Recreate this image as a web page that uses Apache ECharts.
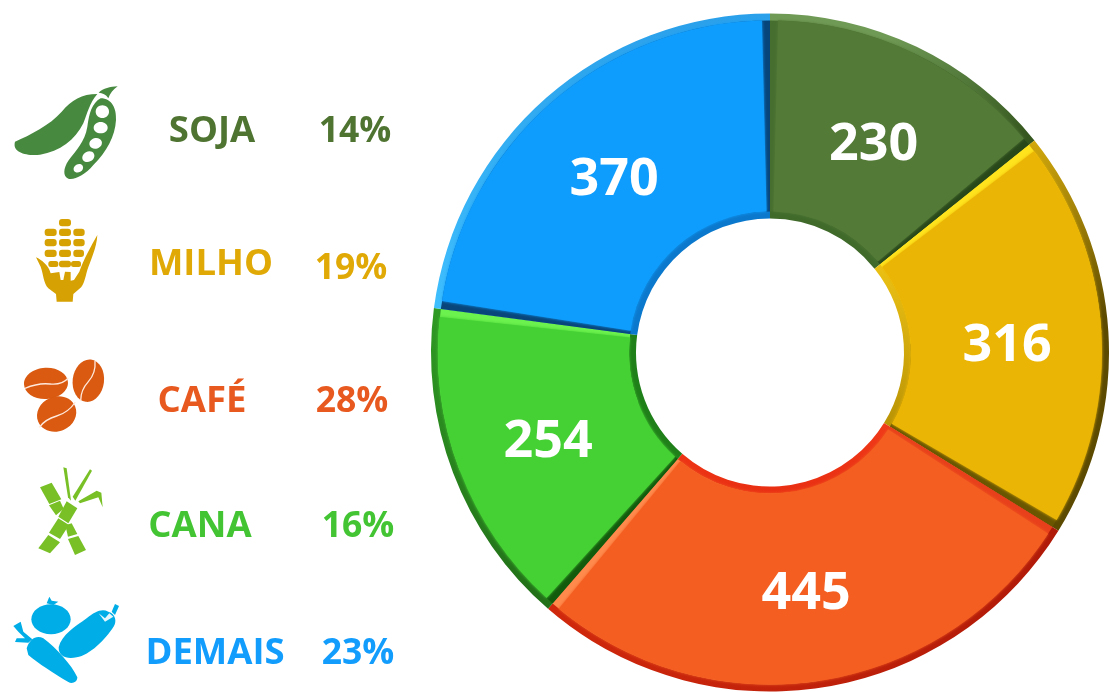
<!DOCTYPE html>
<html>
<head>
<meta charset="utf-8">
<style>html,body{margin:0;padding:0;background:#fff}#c{width:1109px;height:692px}</style>
<script src="https://cdn.jsdelivr.net/npm/echarts@6/dist/echarts.min.js"></script>
</head>
<body>
<div id="c"></div>
<script>
const categories = ['SOJA', 'MILHO', 'CAFÉ', 'CANA', 'DEMAIS'];
const values = [230, 316, 445, 254, 370];
const percentLabels = ['14%', '19%', '28%', '16%', '23%'];
const sliceColors = ['#547a37', '#ebb505', '#f45f21', '#45d134', '#0f9dfd'];
const outerArcA = ['#6f9a55', '#d2a80c', '#d0280c', '#2f9a24', '#40c0ff'];
const outerArcB = ['#2c4c16', '#5c4a00', '#b01a08', '#226f18', '#2aa0ea'];
const outerArcDir = [[0.55, 0, 1, 0.8], [0, 0, 0, 0.45], [0, 0, 1, 0], [0, 0, 0, 1], [0, 1, 0, 0]];
const innerArcA = ['#3f6a2a', '#ffd21a', '#f03a18', '#1f7f18', '#0a78cc'];
const innerArcB = ['#3f6a2a', '#a98500', '#e0200c', '#1f7f18', '#0a78cc'];
const seamStart = ['#466e2e', '#ffe31c', '#e8401a', '#125a0c', '#07457a'];
const seamEnd = ['#28481a', '#6a5600', '#ff8a4c', '#6cf24e', '#06457c'];
const labelShift = [[0, 9], [-2, 8], [0, 5], [2, 5], [2, 8]];
const textColors = ['#4f7431', '#e0a905', '#e8591f', '#43c433', '#129dfd'];
const nameSpots = [[212, 132], [211, 265], [202, 402], [200, 527], [215, 654]];
const percentSpots = [[355, 132], [351, 269], [352, 402], [358, 527], [358, 654]];

const chart = echarts.init(document.getElementById('c'), null, { renderer: 'canvas' });

const font = '"Open Sans", "Noto Sans", sans-serif';
const center = [770, 352.5];

function shape(d) {
  const name = 'ic' + (shape.n = (shape.n || 0) + 1);
  echarts.graphic.registerShape(name, echarts.graphic.extendPath(d, {}));
  return name;
}
// Icons are authored at 3x, relative to an origin
function icon(ox, oy, parts) {
  return {
    type: 'group', x: ox, y: oy, scaleX: 1 / 3, scaleY: 1 / 3, silent: true,
    children: parts
  };
}
const P = (d, fill) => ({ type: shape(d), style: { fill } });
const SL = (d, stroke, w) => ({ type: shape(d), style: { fill: 'none', stroke, lineWidth: w } });
const E = (cx, cy, rx, ry, rot, fill) => {
  const k = 0.5523, dx = rx * k, dy = ry * k;
  const c = Math.cos(rot), s = Math.sin(rot);
  const t = (x, y) => ((cx + x * c - y * s).toFixed(1) + ',' + (cy + x * s + y * c).toFixed(1));
  return P('M' + t(rx, 0) + 'C' + t(rx, dy) + ' ' + t(dx, ry) + ' ' + t(0, ry) +
    'C' + t(-dx, ry) + ' ' + t(-rx, dy) + ' ' + t(-rx, 0) +
    'C' + t(-rx, -dy) + ' ' + t(-dx, -ry) + ' ' + t(0, -ry) +
    'C' + t(dx, -ry) + ' ' + t(rx, -dy) + ' ' + t(rx, 0) + 'Z', fill);
};
const K = (cx, cy, w, h) => {
  const x = cx - w / 2, y = cy - h / 2, r = h / 2.4;
  return P('M' + (x + r) + ',' + y + 'L' + (x + w - r) + ',' + y + 'Q' + (x + w) + ',' + y + ' ' + (x + w) + ',' + (y + r) +
    'L' + (x + w) + ',' + (y + h - r) + 'Q' + (x + w) + ',' + (y + h) + ' ' + (x + w - r) + ',' + (y + h) +
    'L' + (x + r) + ',' + (y + h) + 'Q' + x + ',' + (y + h) + ' ' + x + ',' + (y + h - r) +
    'L' + x + ',' + (y + r) + 'Q' + x + ',' + y + ' ' + (x + r) + ',' + y + 'Z', cornC);
};

const podC = '#478a3f', cornC = '#d6a102', beanC = '#d95a10', caneC = '#78c025', vegC = '#00ade6';

const icons = [
  icon(0, 70, [
    P('M45,215 C90,195 150,165 185,125 C215,90 245,72 292,72 C268,100 262,130 250,160 C225,210 180,245 120,254 C85,258 35,250 45,215Z', podC),
    P('M302,85 C335,85 350,115 348,150 C345,200 320,245 280,285 C255,315 225,330 205,326 C188,318 190,295 205,272 C225,245 255,215 262,170 C268,130 275,100 302,85Z', podC),
    P('M296,68 C310,55 330,50 353,49 C340,58 330,70 325,85 C318,72 308,70 296,68Z', podC),
    E(307, 125, 20, 19, 0, '#fff'), E(302, 173, 21, 17, 0, '#fff'), E(287, 220, 19, 16, -0.3, '#fff'),
    E(265, 260, 19, 15, -0.5, '#fff'), E(235, 295, 15, 12, -0.5, '#fff')
  ]),
  icon(0, 70, [
    K(195, 458, 36, 22),
    K(152, 487, 36, 22), K(195, 487, 36, 22), K(237, 487, 34, 22),
    K(152, 518, 36, 22), K(195, 518, 36, 22), K(237, 518, 34, 22),
    K(152, 550, 36, 22), K(195, 550, 36, 22), K(236, 550, 32, 22),
    K(195, 582, 36, 20), K(160, 582, 30, 18), K(228, 582, 30, 18),
    P('M108,562 C125,570 145,585 152,610 L178,606 L182,630 L190,630 L195,605 L212,606 L212,632 L222,630 L238,605 C250,570 275,525 292,495 C290,535 270,575 262,600 C255,625 252,645 240,655 L220,672 L218,695 L170,695 L168,672 L145,655 C130,640 130,610 122,590 Z', cornC)
  ]),
  icon(0, 340, [
    E(138, 130, 66, 47, -0.05, beanC), E(265, 122, 47, 64, 0.12, beanC), E(170, 222, 60, 52, -0.4, beanC),
    SL('M75,145 Q115,128 150,132 T205,114', '#ffe9dc', 4),
    SL('M285,62 Q288,100 265,125 T242,182', '#ffe9dc', 4),
    SL('M118,262 Q135,238 170,228 T226,186', '#ffe9dc', 4)
  ]),
  icon(0, 340, [
    P('M120,442 L155,428 L184,478 L148,492Z', caneC),
    P('M147,496 L180,482 L191,506 L168,526Z', caneC),
    P('M196,556 L215,550 L232,582 L204,590Z', caneC),
    P('M204,597 L235,588 L258,630 L225,645Z', caneC),
    P('M115,625 L145,585 L180,607 L150,640Z', caneC),
    P('M147,578 L175,535 L207,555 L180,597Z', caneC),
    P('M175,530 L200,484 L232,505 L205,550Z', caneC),
    P('M190,382 L200,385 L213,482 L204,472Z', caneC),
    P('M270,388 L276,392 L226,482 L218,470Z', caneC),
    P('M235,484 L290,452 L304,458 L308,502 L295,472 L240,490Z', caneC)
  ]),
  icon(0, 340, [
    E(153, 838, 59, 45, 0, vegC),
    P('M140,790 L148,770 L155,782 L175,785 L160,795Z', vegC),
    P('M176,922 C185,885 225,860 260,835 C285,815 305,805 325,815 C348,822 350,845 342,858 C315,900 270,945 230,952 C200,958 175,950 176,922Z', vegC),
    P('M335,815 L345,792 L357,798 L345,825Z', vegC),
    P('M80,925 C90,895 110,885 130,895 C170,925 215,975 232,1012 C232,1028 215,1032 205,1026 C160,1000 115,970 85,945Z', vegC),
    P('M40,858 L62,845 L70,875 L97,898 L85,908 L45,906 L50,895 L75,895 L55,875Z', vegC),
    P('M296,820 L315,835 L328,820 L340,830 L315,845Z', '#e5f6fc')
  ])
];

const textEls = [];
categories.forEach((c, i) => {
  textEls.push({
    type: 'text', x: nameSpots[i][0], y: nameSpots[i][1], silent: true,
    style: { text: c, fill: textColors[i], font: 'bold 36.5px ' + font, align: 'center', verticalAlign: 'middle' }
  });
  textEls.push({
    type: 'text', x: percentSpots[i][0], y: percentSpots[i][1], silent: true,
    style: { text: percentLabels[i], fill: textColors[i], font: 'bold 35.5px ' + font, align: 'center', verticalAlign: 'middle' }
  });
});

const arcData = (colorOf) => values.map((v, i) => ({ value: v, name: categories[i], itemStyle: { color: colorOf(i) } }));
const base = { type: 'pie', center, startAngle: 90, silent: true, label: { show: false }, labelLine: { show: false } };

chart.setOption({
  animation: false,
  backgroundColor: '#ffffff',
  tooltip: { show: false },
  series: [
    Object.assign({}, base, {
      radius: [236, 339],
      data: arcData(i => new echarts.graphic.LinearGradient(outerArcDir[i][0], outerArcDir[i][1], outerArcDir[i][2], outerArcDir[i][3], [
        { offset: 0, color: outerArcA[i] }, { offset: 1, color: outerArcB[i] }
      ]))
    }),
    Object.assign({}, base, {
      radius: [134, 236],
      data: arcData(i => new echarts.graphic.LinearGradient(0, 0, 0, 1, [
        { offset: 0, color: innerArcA[i] }, { offset: 1, color: innerArcB[i] }
      ]))
    }),
    Object.assign({}, base, {
      radius: [141, 332],
      data: values.flatMap((v, i) => [
        { value: v / 2, itemStyle: { color: seamStart[i] } },
        { value: v / 2, itemStyle: { color: seamEnd[i] } }
      ])
    }),
    Object.assign({}, base, {
      radius: [141, 332], padAngle: 2.8,
      label: {
        show: true, position: 'inside', formatter: '{c}', color: '#ffffff',
        fontFamily: font, fontWeight: 'bold', fontSize: 52
      },
      data: values.map((v, i) => ({
        value: v, name: categories[i],
        label: { offset: labelShift[i] },
        itemStyle: { color: sliceColors[i], shadowColor: sliceColors[i], shadowBlur: 3 }
      }))
    })
  ],
  graphic: { elements: icons.concat(textEls) }
});
</script>
</body>
</html>
